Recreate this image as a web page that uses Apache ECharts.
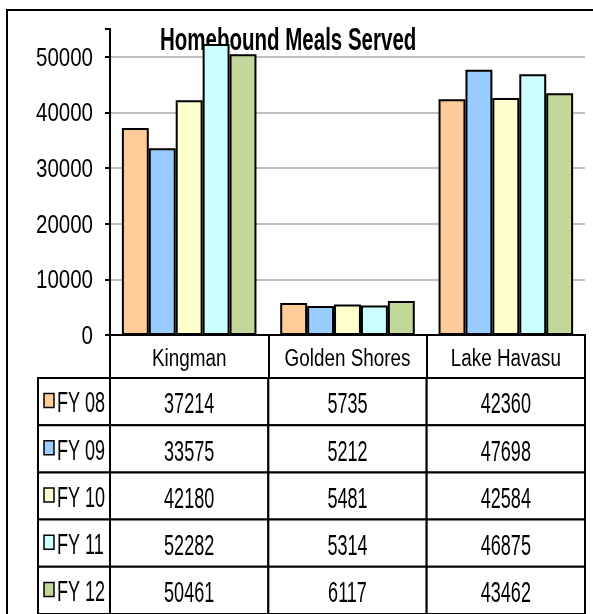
<!DOCTYPE html>
<html>
<head>
<meta charset="utf-8">
<title>Homebound Meals Served</title>
<script src="https://cdn.jsdelivr.net/npm/echarts@6/dist/echarts.min.js"></script>
<style>
  html, body { margin: 0; padding: 0; background: #fff; }
  #chart { width: 593px; height: 614px; }
</style>
</head>
<body>
<div id="chart"></div>
<script>
// data (the table gives the exact numbers)
var categories = ['Kingman', 'Golden Shores', 'Lake Havasu'];
var seriesNames = ['FY 08', 'FY 09', 'FY 10', 'FY 11', 'FY 12'];
var fy08 = [37214, 5735, 42360];
var fy09 = [33575, 5212, 47698];
var fy10 = [42180, 5481, 42584];
var fy11 = [52282, 5314, 46875];
var fy12 = [50461, 6117, 43462];
var yTicks = [0, 10000, 20000, 30000, 40000, 50000];
var yMax = 55000;
var yStep = 10000;

var seriesValues = [fy08, fy09, fy10, fy11, fy12];
var colors = ['#ffcc99', '#99ccff', '#ffffcc', '#ccffff', '#c4d79b'];
var font = "'Liberation Sans', Arial, sans-serif";
var squeeze = 0.82; // no narrow font here, so squeeze the regular one

// cells of the data table: [city index, year index, value]
var tableCells = [];
for (var s = 0; s < seriesValues.length; s++) {
	for (var c = 0; c < categories.length; c++) {
		tableCells.push([c, s, seriesValues[s][c]]);
	}
}
var headerCells = [];
for (var h = 0; h < categories.length; h++) {
	headerCells.push([h, 0]);
}
var tickCells = [];
for (var t = 0; t < yTicks.length; t++) {
	tickCells.push([0, yTicks[t]]);
}

function renderHeader(params, api) {
	var pt = api.coord([api.value(0), api.value(1)]);
	return {
		type: 'text',
		x: pt[0], y: pt[1] + 24,
		scaleX: squeeze, scaleY: 1.07,
		style: {
			text: categories[api.value(0)],
			font: '23px ' + font,
			fill: '#000', align: 'center', verticalAlign: 'middle'
		}
	};
}

function renderTick(params, api) {
	var pt = api.coord([0, api.value(1)]);
	var left = pt[0] - api.size([1, 0])[0] / 2;
	return {
		type: 'text',
		x: left - 17, y: pt[1] + 2,
		scaleX: squeeze,
		style: {
			text: String(api.value(1)),
			font: '25px ' + font,
			fill: '#000', align: 'right', verticalAlign: 'middle'
		}
	};
}

function renderCell(params, api) {
	var ci = api.value(0);
	var si = api.value(1);
	var pt = api.coord([ci, si]);
	var size = api.size([1, 1]);
	var x0 = pt[0] - size[0] / 2;
	var y0 = pt[1] - size[1] / 2;
	var kids = [
		{
			type: 'rect',
			shape: { x: x0, y: y0, width: size[0], height: size[1] },
			style: { fill: '#fff', stroke: '#000', lineWidth: 2 }
		},
		{
			type: 'text',
			x: pt[0], y: pt[1] + 4,
			scaleX: squeeze, scaleY: 1.3,
			style: {
				text: String(api.value(2)),
				font: '22px ' + font,
				fill: '#000', align: 'center', verticalAlign: 'middle'
			}
		}
	];
	// legend column sits left of the first city column
	if (ci === 0) {
		var lw = 72;
		kids.push({
			type: 'rect',
			shape: { x: x0 - lw, y: y0, width: lw, height: size[1] },
			style: { fill: '#fff', stroke: '#000', lineWidth: 2 }
		});
		kids.push({
			type: 'rect',
			shape: { x: x0 - lw + 6, y: pt[1] - 8, width: 10, height: 14 },
			style: { fill: colors[si], stroke: '#000', lineWidth: 1.5 }
		});
		kids.push({
			type: 'text',
			x: x0 - lw + 19, y: pt[1] + 3,
			scaleX: squeeze, scaleY: 1.3,
			style: {
				text: seriesNames[si],
				font: '22px ' + font,
				fill: '#000', align: 'left', verticalAlign: 'middle'
			}
		});
	}
	return { type: 'group', children: kids };
}

var series = [];
for (var i = 0; i < seriesNames.length; i++) {
	series.push({
		name: seriesNames[i],
		type: 'bar',
		xAxisIndex: 0,
		yAxisIndex: 0,
		barGap: '0%',
		barCategoryGap: '15%',
		itemStyle: { color: colors[i], borderColor: '#000', borderWidth: 2 },
		data: seriesValues[i]
	});
}
series.push({
	name: 'header',
	type: 'custom',
	coordinateSystem: 'cartesian2d',
	xAxisIndex: 0,
	yAxisIndex: 0,
	clip: false,
	renderItem: renderHeader,
	data: headerCells
});
series.push({
	name: 'ticks',
	type: 'custom',
	coordinateSystem: 'cartesian2d',
	xAxisIndex: 0,
	yAxisIndex: 0,
	clip: false,
	renderItem: renderTick,
	data: tickCells
});
series.push({
	name: 'table',
	type: 'custom',
	coordinateSystem: 'cartesian2d',
	xAxisIndex: 1,
	yAxisIndex: 1,
	clip: false,
	renderItem: renderCell,
	data: tableCells
});

var option = {
	backgroundColor: '#fff',
	animation: false,
	graphic: [
		{
			type: 'rect',
			z: -10,
			shape: { x: 7, y: 10, width: 620, height: 640 },
			style: { fill: 'none', stroke: '#000', lineWidth: 2 }
		},
		{
			type: 'text',
			x: 160,
			y: 26,
			scaleX: squeeze,
			scaleY: 1.22,
			style: {
				text: 'Homebound Meals Served',
				font: 'bold 25px ' + font,
				fill: '#000'
			}
		}
	],
	grid: [
		{ left: 110, right: 8, top: 29, bottom: 279 },
		{ left: 110, right: 8, top: 378, height: 240 }
	],
	xAxis: [
		{
			type: 'category',
			gridIndex: 0,
			data: categories,
			boundaryGap: true,
			axisLine: { lineStyle: { color: '#000', width: 2 } },
			axisTick: { show: true, interval: 0, length: 43, lineStyle: { color: '#000', width: 2 } },
			axisLabel: { show: false }
		},
		{
			type: 'category',
			gridIndex: 1,
			data: categories,
			show: false
		}
	],
	yAxis: [
		{
			type: 'value',
			gridIndex: 0,
			min: 0,
			max: yMax,
			interval: yStep,
			axisLine: { show: true, lineStyle: { color: '#000', width: 2 } },
			axisTick: { show: true, length: 5, lineStyle: { color: '#000', width: 2 } },
			axisLabel: { show: false },
			splitLine: { show: true, showMaxLine: false, lineStyle: { color: '#c0c0c0', width: 2 } }
		},
		{
			type: 'category',
			gridIndex: 1,
			data: seriesNames,
			inverse: true,
			show: false
		}
	],
	series: series
};

var mychart = echarts.init(document.getElementById('chart'));
mychart.setOption(option);
</script>
</body>
</html>
